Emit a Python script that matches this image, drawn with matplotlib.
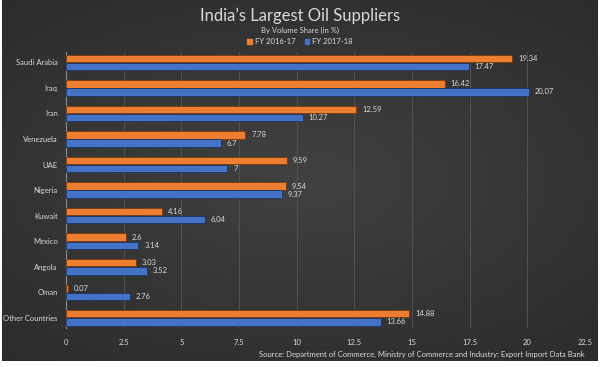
import numpy as np
import matplotlib.pyplot as plt
from matplotlib.patches import Patch

plt.rcParams['font.family'] = ['Lato', 'DejaVu Sans']

countries = ["Saudi Arabia", "Iraq", "Iran", "Venezuela", "UAE", "Nigeria",
             "Kuwait", "Mexico", "Angola", "Oman", "Other Countries"]
fy_2016_17 = [19.34, 16.42, 12.59, 7.78, 9.59, 9.54, 4.16, 2.6, 3.03, 0.07, 14.88]
fy_2017_18 = [17.47, 20.07, 10.27, 6.7, 7, 9.37, 6.04, 3.14, 3.52, 2.76, 13.66]
label_16 = ["19.34", "16.42", "12.59", "7.78", "9.59", "9.54", "4.16", "2.6", "3.03", "0.07", "14.88"]
label_17 = ["17.47", "20.07", "10.27", "6.7", "7", "9.37", "6.04", "3.14", "3.52", "2.76", "13.66"]
x_ticks = [0, 2.5, 5, 7.5, 10, 12.5, 15, 17.5, 20, 22.5]
x_tick_labels = ["0", "2.5", "5", "7.5", "10", "12.5", "15", "17.5", "20", "22.5"]

orange = "#ED7D31"
blue = "#4472C4"
txt = "#d9d9d9"

fig = plt.figure(figsize=(6, 3.67), dpi=100)
fig.patch.set_facecolor("#ffffff")

# dark radial gradient background
bg = fig.add_axes([0.003, 0.015, 0.992, 0.985])
yy, xx = np.mgrid[-1:1:200j, -1:1:300j]
r = np.sqrt((xx * 0.75) ** 2 + (yy * 0.85) ** 2)
v = np.clip(0.255 - 0.075 * r, 0.15, 0.3)
bg.imshow(np.dstack([v, v, v]), aspect="auto", extent=[0, 1, 0, 1])
bg.set_axis_off()

ax = fig.add_axes([0.11, 0.106, 0.865, 0.752])
ax.set_facecolor("none")

y = np.arange(len(countries))
h = 0.29
off = 0.16
ax.barh(y - off, fy_2016_17, height=h, color=orange, edgecolor="#7a380e", linewidth=0.6, zorder=3)
ax.barh(y + off, fy_2017_18, height=h, color=blue, edgecolor="#1c3466", linewidth=0.6, zorder=3)

for i in range(len(countries)):
    ax.text(fy_2016_17[i] + 0.25, y[i] - off, label_16[i], va="center", ha="left", fontsize=5.5, color=txt)
    ax.text(fy_2017_18[i] + 0.25, y[i] + off, label_17[i], va="center", ha="left", fontsize=5.5, color=txt)

ax.set_ylim(10.4, -0.4)
ax.set_xlim(0, 22.5)
ax.set_yticks(y)
ax.set_yticklabels(countries, fontsize=5.5, color=txt)
ax.set_xticks(x_ticks)
ax.set_xticklabels(x_tick_labels, fontsize=5.5, color=txt)
ax.tick_params(length=0, pad=6)
ax.tick_params(axis="x", pad=8)

ax.grid(axis="x", color="#525252", linewidth=0.7, zorder=0)
for s in ["top", "right", "bottom"]:
    ax.spines[s].set_visible(False)
ax.spines["left"].set_color("#8c8c8c")
ax.spines["left"].set_linewidth(0.8)

fig.text(0.5, 0.957, "India\u2019s Largest Oil Suppliers", ha="center", va="center", fontsize=12, color=txt)
fig.text(0.5, 0.918, "By Volume Share (in %)", ha="center", va="center", fontsize=5.5, color=txt)

handles = [Patch(color=orange), Patch(color=blue)]
fig.legend(handles, ["FY 2016-17", "FY 2017-18"], loc="center", bbox_to_anchor=(0.5, 0.887),
           ncol=2, frameon=False, fontsize=5.5, labelcolor=txt, handlelength=0.6, handleheight=0.6,
           handletextpad=0.4, columnspacing=1.2)

fig.text(0.975, 0.035, "Source: Department of Commerce, Ministry of Commerce and Industry: Export Import Data Bank",
         ha="right", va="center", fontsize=5.5, color=txt)

fig.savefig("out.png", dpi=100, facecolor=fig.get_facecolor())
